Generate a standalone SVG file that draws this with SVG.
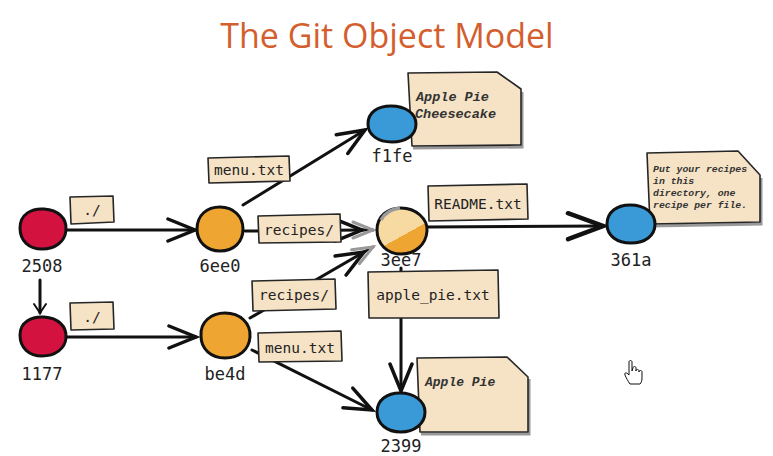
<svg xmlns="http://www.w3.org/2000/svg" width="773" height="456" viewBox="0 0 773 456">
<style>
.title{font-family:"Open Sans","Liberation Sans",sans-serif;font-size:34px;fill:#d35e2e}
.id{font-family:"DejaVu Sans Mono","Liberation Mono",monospace;font-size:17px;fill:#222;text-anchor:middle}
.lt{font-family:"DejaVu Sans Mono","Liberation Mono",monospace;font-size:14.5px;fill:#222;text-anchor:middle}
.nt{font-family:"Liberation Mono","Courier New",monospace;font-style:italic;font-weight:bold;fill:#333}
.box{fill:#f6e3c6;stroke:#262626;stroke-width:1.6;stroke-linejoin:round}
.note{fill:#f6e3c6;stroke:#262626;stroke-width:1.6;stroke-linejoin:round}
.shadow{fill:none;stroke:#555;stroke-width:3;opacity:0.6}
.edge{fill:none;stroke:#111;stroke-width:3;stroke-linecap:round}
.red{fill:#d3123f;stroke:#111;stroke-width:3}
.org{fill:#eea532;stroke:#111;stroke-width:3}
.blu{fill:#3a9ad8;stroke:#111;stroke-width:3}
</style>
<defs>
<marker id="ah" markerUnits="userSpaceOnUse" viewBox="-30 -15 34 30" refX="0" refY="0" markerWidth="34" markerHeight="30" orient="auto">
<path d="M-27,-11 L0,0 L-27,11" fill="none" stroke="#111" stroke-width="3.5" stroke-linecap="round"/>
</marker>
<marker id="ahbig" markerUnits="userSpaceOnUse" viewBox="-40 -17 44 34" refX="0" refY="0" markerWidth="44" markerHeight="34" orient="auto">
<path d="M-35,-13 L0,0 L-35,13" fill="none" stroke="#111" stroke-width="4.5" stroke-linecap="round"/>
</marker>
<marker id="ahsm" markerUnits="userSpaceOnUse" viewBox="-12 -9 16 18" refX="0" refY="0" markerWidth="16" markerHeight="18" orient="auto">
<path d="M-9,-6 L0,0 L-9,6" fill="none" stroke="#111" stroke-width="2" stroke-linecap="round"/>
</marker>
<marker id="ahgray" markerUnits="userSpaceOnUse" viewBox="-24 -12 28 24" refX="0" refY="0" markerWidth="28" markerHeight="24" orient="auto">
<path d="M-20,-8 L0,0 L-20,8" fill="none" stroke="#999" stroke-width="3" stroke-linecap="round"/>
</marker>
<linearGradient id="half" x1="0.2" y1="0" x2="0.8" y2="1">
<stop offset="0" stop-color="#f7d9a2"/>
<stop offset="0.58" stop-color="#f7d9a2"/>
<stop offset="0.58" stop-color="#eea532"/>
<stop offset="1" stop-color="#eea532"/>
</linearGradient>
</defs>
<rect width="773" height="456" fill="#ffffff"/>
<text class="title" x="387" y="48" text-anchor="middle">The Git Object Model</text>

<g id="connectors">
<path class="edge" d="M66,230 L195,230" marker-end="url(#ah)"/>
<path class="edge" d="M40,280 L40,313" stroke-width="2" marker-end="url(#ahsm)"/>
<path class="edge" d="M66,337 L196,337" marker-end="url(#ah)"/>
<path class="edge" d="M243,205 L365,130" marker-end="url(#ah)"/>
<path class="edge" d="M245,231 L362,230" marker-end="url(#ah)"/>
<path class="edge" d="M362,230 L373,230" stroke="#999" marker-end="url(#ahgray)"/>
<path class="edge" d="M250,318 L364,252" marker-end="url(#ah)"/>
<path class="edge" d="M364,252 L373,247" stroke="#999" marker-end="url(#ahgray)"/>
<path class="edge" d="M428,227 L603,226" stroke-width="4" marker-end="url(#ahbig)"/>
<path class="edge" d="M401,268 L401,391" marker-end="url(#ah)"/>
<path class="edge" d="M252,350 L372,410" marker-end="url(#ah)"/>
</g>

<g id="labels">
<g id="lbl-root1"><path class="box" d="M70,197 L113,196 L114,222 L71,224 Z"/><text class="lt" x="92" y="215">./</text></g>
<g id="lbl-root2"><path class="box" d="M70,303 L113,302 L114,329 L71,330 Z"/><text class="lt" x="92" y="322">./</text></g>
<g id="lbl-menu1"><path class="box" d="M208,158 L289,156 L290,181 L209,183 Z"/><text class="lt" x="249" y="175">menu.txt</text></g>
<g id="lbl-recipes1"><path class="box" d="M258,216 L340,214 L341,242 L259,243 Z"/><text class="lt" x="299" y="235">recipes/</text></g>
<g id="lbl-readme"><path class="box" d="M428,186 L527,184 L528,219 L429,221 Z"/><text class="lt" x="478" y="209">README.txt</text></g>
<g id="lbl-recipes2"><path class="box" d="M252,281 L335,279 L336,309 L253,311 Z"/><text class="lt" x="294" y="300">recipes/</text></g>
<g id="lbl-menu2"><path class="box" d="M258,333 L341,331 L342,361 L259,362 Z"/><text class="lt" x="300" y="353">menu.txt</text></g>
<g id="lbl-applepie"><path class="box" d="M368,272 L498,270 L499,318 L369,318 Z"/><text class="lt" x="433" y="300">apple_pie.txt</text></g>
</g>

<g id="n2508"><path class="red" d="M20,228 C20,214 32,208 44,209 C58,210 67,218 66,230 C65,242 55,249 42,249 C29,249 20,241 20,228 Z"/><text class="id" x="42" y="272">2508</text></g>
<g id="n1177"><path class="red" d="M20,335 C20,322 32,316 44,317 C58,318 67,326 66,338 C65,349 55,356 42,356 C29,356 20,348 20,335 Z"/><text class="id" x="42" y="380">1177</text></g>
<g id="n6ee0"><path class="org" d="M197,229 C197,215 207,207 220,207 C234,207 243,217 243,229 C243,242 234,251 220,251 C207,251 197,242 197,229 Z"/><text class="id" x="220" y="272">6ee0</text></g>
<g id="nbe4d"><path class="org" d="M201,336 C200,322 211,313 225,313 C240,313 251,323 250,337 C249,350 239,358 225,358 C211,358 201,349 201,336 Z"/><text class="id" x="225" y="380">be4d</text></g>
<g id="nf1fe">
<path class="shadow" d="M522,92 L522,147 L413,148"/>
<path class="note" d="M408,73 L497,72 L521,89 L521,145 L412,146 Z"/>
<path class="blu" d="M368,124 C368,112 378,106 391,106 C405,106 416,113 416,124 C416,136 405,142 392,142 C378,142 368,135 368,124 Z"/>
<text class="nt" x="416" y="101" font-size="13.5">Apple Pie</text>
<text class="nt" x="415" y="118" font-size="13.5">Cheesecake</text>
<text class="id" x="392" y="162">f1fe</text>
</g>
<g id="n3ee7">
<path d="M377,230 C377,216 388,208 401,208 C416,208 428,219 427,231 C426,245 415,254 401,254 C387,254 377,244 377,230 Z" fill="url(#half)" stroke="#111" stroke-width="3"/>
<path d="M381,220 C385,212 392,209 400,208" fill="none" stroke="#9a9a9a" stroke-width="3.5"/>
<text class="id" x="401" y="266">3ee7</text>
</g>
<g id="n361a">
<path class="shadow" d="M761,178 L761,224 L651,226"/>
<path class="note" d="M647,153 L738,151 L760,175 L760,222 L650,224 Z"/>
<path class="blu" d="M607,224 C607,212 617,205 630,205 C645,205 655,213 655,224 C655,236 645,243 631,243 C617,243 607,236 607,224 Z"/>
<text class="nt" x="653" y="172" font-size="9.8">Put your recipes</text>
<text class="nt" x="653" y="184" font-size="9.8">in this</text>
<text class="nt" x="653" y="196" font-size="9.8">directory, one</text>
<text class="nt" x="653" y="208" font-size="9.8">recipe per file.</text>
<text class="id" x="631" y="266">361a</text>
</g>
<g id="n2399">
<path class="shadow" d="M529,379 L529,434 L421,434"/>
<path class="note" d="M417,358 L507,357 L528,377 L528,432 L420,432 Z"/>
<path class="blu" d="M377,412 C377,400 387,393 400,393 C414,393 425,401 425,412 C425,424 414,432 401,432 C387,432 377,424 377,412 Z"/>
<text class="nt" x="425" y="386" font-size="13">Apple Pie</text>
<text class="id" x="401" y="452">2399</text>
</g>

<g id="cursor">
<path d="M629,362 C629,360 632,360 632,362 L632,371 L633,368 C633,366 636,366 636,368 L636,371 C636,369 639,369 639,371 L639,372 C639,370 642,370 642,372 L642,378 C642,381 641,383 640,384 L630,384 C628,381 626,378 625,375 C624,373 626,372 628,374 L629,375 Z" fill="#fff" stroke="#111" stroke-width="1"/>
</g>
</svg>
